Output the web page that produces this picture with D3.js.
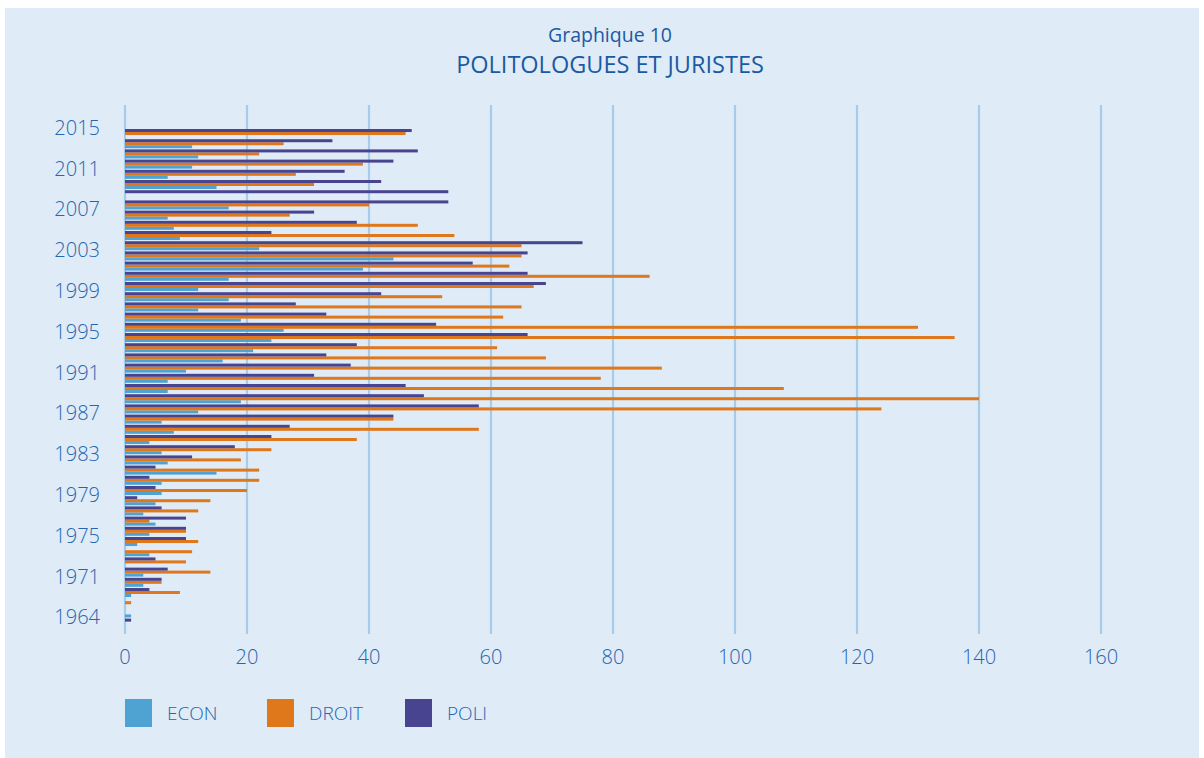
<!DOCTYPE html>
<html>
<head>
<meta charset="utf-8">
<script src="https://cdn.jsdelivr.net/npm/d3@7"></script>
<style>
  html, body { margin: 0; padding: 0; background: #ffffff; }
  svg { display: block; }
  text { font-family: "Open Sans", "Noto Sans", sans-serif; }
</style>
</head>
<body>
<svg id="chart" width="1204" height="758"></svg>
<script>
// Years, listed from the top row of the chart to the bottom row
const years = [
  2015, 2014, 2013, 2012, 2011, 2010, 2009, 2008, 2007, 2006,
  2005, 2004, 2003, 2002, 2001, 2000, 1999, 1998, 1997, 1996,
  1995, 1994, 1993, 1992, 1991, 1990, 1989, 1988, 1987, 1986,
  1985, 1984, 1983, 1982, 1981, 1980, 1979, 1978, 1977, 1976,
  1975, 1974, 1973, 1972, 1971, 1970, 1969, 1968, 1964
];

// Only every fourth year is labelled on the vertical axis
const yearLabels = [2015, 2011, 2007, 2003, 1999, 1995, 1991, 1987, 1983, 1979, 1975, 1971, 1964];

const econ = [
  0, 11, 12, 11, 7, 15, 0, 17, 7, 8,
  9, 22, 44, 39, 17, 12, 17, 12, 19, 26,
  24, 21, 16, 10, 7, 7, 19, 12, 6, 8,
  4, 6, 7, 15, 6, 6, 5, 3, 5, 4,
  2, 4, 0, 3, 3, 1, 0, 1, 0
];

const droit = [
  46, 26, 22, 39, 28, 31, 0, 40, 27, 48,
  54, 65, 65, 63, 86, 67, 52, 65, 62, 130,
  136, 61, 69, 88, 78, 108, 140, 124, 44, 58,
  38, 24, 19, 22, 22, 20, 14, 12, 4, 10,
  12, 11, 10, 14, 6, 9, 1, 0, 0
];

const poli = [
  47, 34, 48, 44, 36, 42, 53, 53, 31, 38,
  24, 75, 66, 57, 66, 69, 42, 28, 33, 51,
  66, 38, 33, 37, 31, 46, 49, 58, 44, 27,
  24, 18, 11, 5, 4, 5, 2, 6, 10, 10,
  10, 0, 5, 7, 6, 4, 0, 0, 1
];

const xTicks = [0, 20, 40, 60, 80, 100, 120, 140, 160];

const seriesNames = ["ECON", "DROIT", "POLI"];
const seriesValues = { ECON: econ, DROIT: droit, POLI: poli };
const seriesColors = { ECON: "#4fa3d2", DROIT: "#df771b", POLI: "#48448f" };

const textColor = "#2566ae";
const titleColor = "#1a5aa2";

const svg = d3.select("#chart");

// Panel background
svg.append("rect")
  .attr("x", 5).attr("y", 8)
  .attr("width", 1194).attr("height", 750)
  .attr("fill", "#dfebf7");

// Titles
svg.append("text")
  .attr("x", 610).attr("y", 42)
  .attr("text-anchor", "middle")
  .attr("font-size", 19.5)
  .attr("font-weight", 500)
  .attr("fill", titleColor)
  .text("Graphique 10");

svg.append("text")
  .attr("x", 610).attr("y", 73)
  .attr("text-anchor", "middle")
  .attr("font-size", 23.5)
  .attr("font-weight", 400)
  .attr("fill", titleColor)
  .text("POLITOLOGUES ET JURISTES");

// Scales
const x = d3.scaleLinear().domain([0, 160]).range([125, 1101]);

const y = d3.scaleBand()
  .domain(years)
  .range([128.4, 628.2])
  .paddingInner(0.12)
  .paddingOuter(0.06);

// Within a year: POLI on top, then DROIT, then ECON
const ySeries = d3.scaleBand()
  .domain(["POLI", "DROIT", "ECON"])
  .range([0, 9]);

// Vertical gridlines
svg.append("g")
  .selectAll("line")
  .data(xTicks)
  .join("line")
  .attr("x1", d => x(d)).attr("x2", d => x(d))
  .attr("y1", 105).attr("y2", 634)
  .attr("stroke", "#a7cbeb")
  .attr("stroke-width", 2.2);

// Bars
const rows = years.map((yr, i) => ({ year: yr, i }));

seriesNames.forEach(name => {
  svg.append("g")
    .selectAll("rect")
    .data(rows.filter(r => seriesValues[name][r.i] > 0))
    .join("rect")
    .attr("x", x(0))
    .attr("y", r => y(r.year) + ySeries(name))
    .attr("width", r => x(seriesValues[name][r.i]) - x(0))
    .attr("height", ySeries.bandwidth())
    .attr("fill", seriesColors[name]);
});

// Vertical axis labels
svg.append("g")
  .selectAll("text")
  .data(yearLabels)
  .join("text")
  .attr("x", 100)
  .attr("y", d => y(d) + y.bandwidth() / 2 - 6)
  .attr("dy", "0.36em")
  .attr("text-anchor", "end")
  .attr("font-size", 20)
  .attr("font-weight", 300)
  .attr("fill", textColor)
  .text(d => d);

// Horizontal axis labels
svg.append("g")
  .selectAll("text")
  .data(xTicks)
  .join("text")
  .attr("x", d => x(d))
  .attr("y", 664)
  .attr("text-anchor", "middle")
  .attr("font-size", 20)
  .attr("font-weight", 300)
  .attr("fill", textColor)
  .text(d => d);

// Legend
const legendItems = [
  { name: "ECON", x: 125 },
  { name: "DROIT", x: 267 },
  { name: "POLI", x: 405 }
];

const legend = svg.append("g");
legendItems.forEach(item => {
  legend.append("rect")
    .attr("x", item.x).attr("y", 699)
    .attr("width", 27).attr("height", 28)
    .attr("fill", seriesColors[item.name]);
  legend.append("text")
    .attr("x", item.x + 42).attr("y", 720)
    .attr("font-size", 19)
    .attr("font-weight", 300)
    .attr("fill", textColor)
    .text(item.name);
});
</script>
</body>
</html>
